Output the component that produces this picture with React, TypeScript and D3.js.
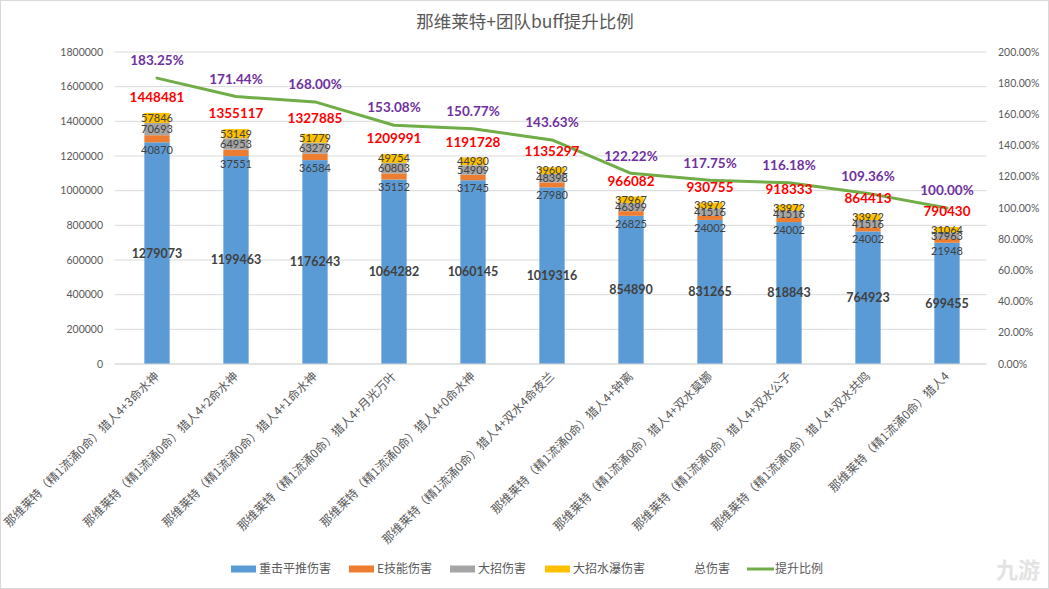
import React from "react";
import * as d3 from "d3";

const categories = [
  "那维莱特（精1流涌0命）猎人4+3命水神",
  "那维莱特（精1流涌0命）猎人4+2命水神",
  "那维莱特（精1流涌0命）猎人4+1命水神",
  "那维莱特（精1流涌0命）猎人4+月光万叶",
  "那维莱特（精1流涌0命）猎人4+0命水神",
  "那维莱特（精1流涌0命）猎人4+双水4命夜兰",
  "那维莱特（精1流涌0命）猎人4+钟离",
  "那维莱特（精1流涌0命）猎人4+双水莫娜",
  "那维莱特（精1流涌0命）猎人4+双水公子",
  "那维莱特（精1流涌0命）猎人4+双水共鸣",
  "那维莱特（精1流涌0命）猎人4",
];

const chargedDmg = [1279073, 1199463, 1176243, 1064282, 1060145, 1019316, 854890, 831265, 818843, 764923, 699455];
const eSkillDmg = [40870, 37551, 36584, 35152, 31745, 27980, 26825, 24002, 24002, 24002, 21948];
const burstDmg = [70693, 64953, 63279, 60803, 54909, 48398, 46399, 41516, 41516, 41516, 37963];
const burstWaterfallDmg = [57846, 53149, 51779, 49754, 44930, 39602, 37967, 33972, 33972, 33972, 31064];
const totalDmg = [1448481, 1355117, 1327885, 1209991, 1191728, 1135297, 966082, 930755, 918333, 864413, 790430];
const boostRatio = [183.25, 171.44, 168.0, 153.08, 150.77, 143.63, 122.22, 117.75, 116.18, 109.36, 100.0];

const seriesNames = ["重击平推伤害", "E技能伤害", "大招伤害", "大招水瀑伤害"];
const seriesColors = ["#5B9BD5", "#ED7D31", "#A5A5A5", "#FFC000"];
const leftTicks = [0, 200000, 400000, 600000, 800000, 1000000, 1200000, 1400000, 1600000, 1800000];
const rightTicks = [0, 20, 40, 60, 80, 100, 120, 140, 160, 180, 200];
const title = "那维莱特+团队buff提升比例";

const W = 1049;
const H = 589;
const plot = { left: 117.5, right: 986.5, top: 52, bottom: 364 };
const numFont = "Lato, 'Noto Sans CJK SC', sans-serif";
const cjkFont = "'Noto Sans CJK SC', sans-serif";

export default function App() {
  const x = d3
    .scaleBand<string>()
    .domain(categories)
    .range([plot.left, plot.right])
    .paddingInner(0.68)
    .paddingOuter(0.34);
  const yL = d3.scaleLinear().domain([0, 1800000]).range([plot.bottom, plot.top]);
  const yR = d3.scaleLinear().domain([0, 200]).range([plot.bottom, plot.top]);

  const rows = categories.map((c, i) => ({
    cat: c,
    s0: chargedDmg[i],
    s1: eSkillDmg[i],
    s2: burstDmg[i],
    s3: burstWaterfallDmg[i],
  }));
  const stack = d3.stack<any>().keys(["s0", "s1", "s2", "s3"]);
  const stacked = stack(rows);

  const cx = (c: string) => (x(c) as number) + x.bandwidth() / 2;

  const line = d3
    .line<number>()
    .x((_, i) => cx(categories[i]))
    .y((d) => yR(d));

  const legendItems = [
    { type: "rect", color: seriesColors[0], label: seriesNames[0], x: 231 },
    { type: "rect", color: seriesColors[1], label: seriesNames[1], x: 349 },
    { type: "rect", color: seriesColors[2], label: seriesNames[2], x: 450 },
    { type: "rect", color: seriesColors[3], label: seriesNames[3], x: 545 },
    { type: "none", color: "none", label: "总伤害", x: 666 },
    { type: "line", color: "#70AD47", label: "提升比例", x: 747 },
  ];

  return (
    <svg
      width={W}
      height={H}
      style={{ position: "absolute", left: 0, top: 0, background: "#fff" }}
    >
      <rect x={0.5} y={0.5} width={W - 1} height={H - 1} fill="#fff" stroke="#D9D9D9" />
      <text
        x={525}
        y={28}
        textAnchor="middle"
        fontFamily={cjkFont}
        fontSize={17.5}
        fill="#595959"
      >
        {title}
      </text>

      {/* gridlines */}
      {leftTicks.map((t) => (
        <line
          key={"g" + t}
          x1={plot.left - 3}
          x2={plot.right}
          y1={yL(t)}
          y2={yL(t)}
          stroke="#D9D9D9"
          strokeWidth={1}
        />
      ))}
      {/* left tick labels */}
      {leftTicks.map((t) => (
        <text
          key={"l" + t}
          x={103}
          y={yL(t)}
          dy="0.35em"
          textAnchor="end"
          fontFamily={numFont}
          fontSize={10.5}
          fill="#595959"
        >
          {t}
        </text>
      ))}
      {/* right tick labels */}
      {rightTicks.map((t) => (
        <text
          key={"r" + t}
          x={998}
          y={yR(t)}
          dy="0.35em"
          textAnchor="start"
          fontFamily={numFont}
          fontSize={10.5}
          fill="#595959"
        >
          {t.toFixed(2) + "%"}
        </text>
      ))}

      {/* bars */}
      {stacked.map((layer, li) =>
        layer.map((d, i) => (
          <rect
            key={"b" + li + "-" + i}
            x={x(categories[i])}
            y={yL(d[1])}
            width={x.bandwidth()}
            height={yL(d[0]) - yL(d[1])}
            fill={seriesColors[li]}
          />
        ))
      )}

      {/* segment labels */}
      {stacked.map((layer, li) =>
        layer.map((d, i) => {
          let ly: number;
          if (li === 1) ly = yL(d[0]) + 8;
          else ly = (yL(d[0]) + yL(d[1])) / 2;
          return (
            <text
              key={"sl" + li + "-" + i}
              x={cx(categories[i])}
              y={ly}
              dy="0.35em"
              textAnchor="middle"
              fontFamily={numFont}
              fontSize={li === 0 ? 12.5 : 11}
              fontWeight={li === 0 ? 700 : 400}
              fill="#404040"
            >
              {d[1] - d[0]}
            </text>
          );
        })
      )}

      {/* bottom axis */}
      <line x1={plot.left - 3} x2={plot.right} y1={plot.bottom} y2={plot.bottom} stroke="#D9D9D9" />

      {/* ratio line */}
      <path d={line(boostRatio) || ""} fill="none" stroke="#70AD47" strokeWidth={3} strokeLinejoin="round" strokeLinecap="round" />

      {/* total labels */}
      {totalDmg.map((t, i) => (
        <text
          key={"t" + i}
          x={cx(categories[i])}
          y={yL(t) - 15.5}
          dy="0.35em"
          textAnchor="middle"
          fontFamily={numFont}
          fontSize={13.5}
          fontWeight={700}
          fill="#FF0000"
        >
          {t}
        </text>
      ))}

      {/* percent labels */}
      {boostRatio.map((p, i) => (
        <text
          key={"p" + i}
          x={cx(categories[i])}
          y={yR(p) - 17.5}
          dy="0.35em"
          textAnchor="middle"
          fontFamily={numFont}
          fontSize={13.5}
          fontWeight={700}
          fill="#7030A0"
        >
          {p.toFixed(2) + "%"}
        </text>
      ))}

      {/* x labels */}
      {categories.map((c) => (
        <text
          key={"x" + c}
          transform={`translate(${cx(c) + 3},${plot.bottom + 13}) rotate(-45)`}
          textAnchor="end"
          fontFamily={cjkFont}
          fontSize={12}
          fill="#595959"
        >
          {c}
        </text>
      ))}

      {/* legend */}
      {legendItems.map((it) => (
        <g key={"lg" + it.label} transform={`translate(${it.x},569)`}>
          {it.type === "rect" && <rect x={0} y={-3.5} width={25} height={7} fill={it.color} />}
          {it.type === "line" && <line x1={0} x2={27} y1={0} y2={0} stroke={it.color} strokeWidth={3} />}
          <text
            x={it.type === "line" ? 28 : 28}
            y={0}
            dy="0.35em"
            fontFamily={cjkFont}
            fontSize={12}
            fill="#595959"
          >
            {it.label}
          </text>
        </g>
      ))}

      {/* watermark */}
      <text x={1040} y={578} textAnchor="end" fontFamily={cjkFont} fontSize={22} fontWeight={700} fill="#E3E3E3">
        九游
      </text>
    </svg>
  );
}
